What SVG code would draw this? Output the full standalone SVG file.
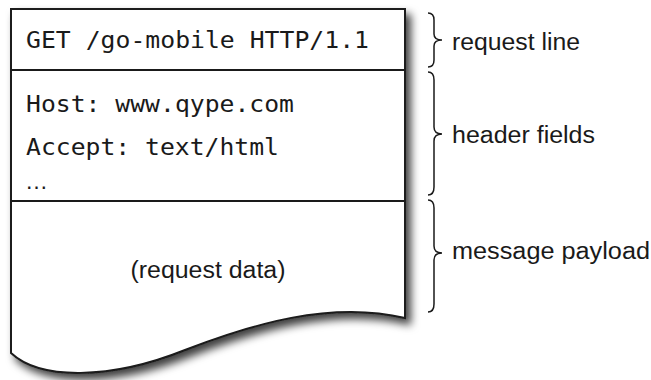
<svg xmlns="http://www.w3.org/2000/svg" width="651" height="380" viewBox="0 0 651 380">
<defs>
<filter id="shadow" x="-10%" y="-10%" width="130%" height="130%">
<feDropShadow dx="5" dy="6" stdDeviation="4.5" flood-color="#000" flood-opacity="0.75"/>
</filter>
</defs>
<style>
.box{fill:#fff;stroke:#1a1a1a;stroke-width:2}
.div{stroke:#1a1a1a;stroke-width:2;fill:none}
.mono{font-family:"DejaVu Sans Mono","Liberation Mono",monospace;font-size:22.5px;fill:#1a1a1a}
.sans{font-family:"Liberation Sans",Arial,sans-serif;font-size:23px;fill:#1a1a1a}
.brace{fill:none;stroke:#1a1a1a;stroke-width:1.5}
</style>
<rect width="651" height="380" fill="#fff"/>
<g id="message">
<path class="box" filter="url(#shadow)" d="M11,9 L405,9 L405,318 C330,300 250,325 185,350 C110,380 40,380 11,353 Z"/>
<path class="div" d="M11,70 L405,70 M11,201 L405,201"/>
</g>
<g id="request-line-box">
<text class="mono" x="26" y="48" textLength="343" lengthAdjust="spacingAndGlyphs">GET /go-mobile HTTP/1.1</text>
</g>
<g id="header-fields-box">
<text class="mono" x="26" y="112" textLength="268" lengthAdjust="spacingAndGlyphs">Host: www.qype.com</text>
<text class="mono" x="26" y="155" textLength="253" lengthAdjust="spacingAndGlyphs">Accept: text/html</text>
<text class="sans" x="25" y="189" font-size="22">…</text>
</g>
<g id="payload-box">
<text class="sans" x="208" y="278" text-anchor="middle" textLength="155" lengthAdjust="spacingAndGlyphs">(request data)</text>
</g>
<g id="connectors">
<path class="brace" d="M428,13 Q434,13 434,20 L434,34 Q434,40 442,40 Q434,40 434,46 L434,60 Q434,67 428,67"/>
<path class="brace" d="M428,72 Q434,72 434,80 L434,127 Q434,134 442,134 Q434,134 434,141 L434,187 Q434,195 428,195"/>
<path class="brace" d="M428,200 Q434,200 434,208 L434,246 Q434,253 442,253 Q434,253 434,260 L434,304 Q434,312 428,312"/>
</g>
<g id="label-request-line">
<text class="sans" x="452" y="50" textLength="128" lengthAdjust="spacingAndGlyphs">request line</text>
</g>
<g id="label-header-fields">
<text class="sans" x="452" y="143" textLength="143" lengthAdjust="spacingAndGlyphs">header fields</text>
</g>
<g id="label-message-payload">
<text class="sans" x="452" y="259" textLength="198" lengthAdjust="spacingAndGlyphs">message payload</text>
</g>
</svg>
